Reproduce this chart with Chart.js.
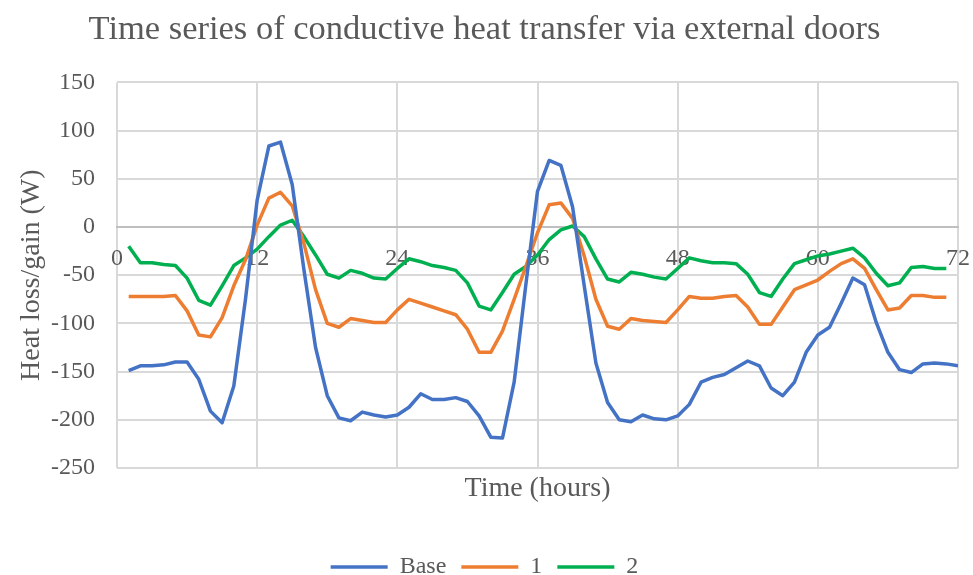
<!DOCTYPE html>
<html lang="en">

<head>
    <meta charset="UTF-8">
    <script src="https://cdn.jsdelivr.net/npm/chart.js"></script>
    <title>Conductive heat transfer</title>
    <style>
        body { margin: 0; background: #fff; }
        .grafico { width: 973px; height: 575px; }
    </style>
</head>

<body>
    <div class="grafico">
        <canvas id="myChart"></canvas>
    </div>
</body>

</html>
<script>
    // hours 1..72
    const hours = [1, 2, 3, 4, 5, 6, 7, 8, 9, 10, 11, 12, 13, 14, 15, 16, 17, 18, 19, 20, 21, 22, 23, 24,
        25, 26, 27, 28, 29, 30, 31, 32, 33, 34, 35, 36, 37, 38, 39, 40, 41, 42, 43, 44, 45, 46, 47, 48,
        49, 50, 51, 52, 53, 54, 55, 56, 57, 58, 59, 60, 61, 62, 63, 64, 65, 66, 67, 68, 69, 70, 71, 72];

    const base = [-149, -144, -144, -143, -140, -140, -158, -191, -203, -165, -75, 28, 84, 88, 44, -44, -125, -175, -198, -201, -192, -195, -197, -195,
        -187, -173, -179, -179, -177, -181, -196, -218, -219, -161, -60, 37, 69, 64, 21, -61, -141, -182, -200, -202, -195, -199, -200, -196,
        -184, -161, -156, -153, -146, -139, -144, -167, -175, -161, -130, -112, -104, -79, -53, -60, -99, -130, -148, -151, -142, -141, -142, -144];

    const serie1 = [-72, -72, -72, -72, -71, -87, -112, -114, -94, -61, -34, 2, 30, 36, 22, -17, -65, -100, -104, -95, -97, -99, -99, -86,
        -75, -79, -83, -87, -91, -106, -130, -130, -108, -75, -41, -6, 23, 25, 9, -30, -75, -103, -106, -95, -97, -98, -99, -86,
        -72, -74, -74, -72, -71, -83, -101, -101, -83, -65, -60, -55, -46, -38, -33, -43, -65, -86, -84, -71, -71, -73, -73];

    const serie2 = [-20, -37, -37, -39, -40, -53, -76, -81, -61, -40, -32, -23, -10, 2, 7, -10, -29, -49, -53, -45, -48, -53, -54, -43,
        -33, -36, -40, -42, -45, -58, -82, -86, -68, -49, -41, -29, -13, -3, 1, -10, -33, -54, -57, -47, -49, -52, -54, -43,
        -32, -35, -37, -37, -38, -49, -68, -72, -54, -38, -34, -30, -28, -25, -22, -32, -48, -61, -58, -42, -41, -43, -43];

    const xTicks = [0, 12, 24, 36, 48, 60, 72];
    const yTicks = [-250, -200, -150, -100, -50, 0, 50, 100, 150];

    const cinza = '#595959';
    const fonte = 'Liberation Serif';

    function linha(label, data, cor) {
        return {
            label: label,
            data: data,
            borderColor: cor,
            backgroundColor: cor,
            borderWidth: 3.5,
            borderJoinStyle: 'round',
            pointRadius: 0,
            tension: 0
        };
    }

    const ctx = document.getElementById('myChart');

    const myChart = new Chart(ctx, {
        type: 'line',
        data: {
            labels: hours,
            datasets: [
                linha('Base', base, '#4472C4'),
                linha('1', serie1, '#ED7D31'),
                linha('2', serie2, '#00B050')
            ]
        },
        options: {
            responsive: true,
            maintainAspectRatio: false,
            animation: false,
            layout: { padding: { left: 11, right: 15, top: 0, bottom: -14 } },
            plugins: {
                title: {
                    display: true,
                    text: 'Time series of conductive heat transfer via external doors',
                    color: cinza,
                    font: { family: fonte, size: 34.5, weight: 'normal' },
                    padding: { top: 9, bottom: 32 }
                },
                legend: {
                    position: 'bottom',
                    labels: {
                        usePointStyle: true,
                        pointStyle: 'line',
                        pointStyleWidth: 57,
                        color: cinza,
                        padding: 15,
                        font: { family: fonte, size: 24 }
                    }
                },
                tooltip: { enabled: false }
            },
            scales: {
                x: {
                    type: 'linear',
                    position: 'bottom',
                    min: 0,
                    max: 72,
                    afterBuildTicks: axis => { axis.ticks = xTicks.map(v => ({ value: v })); },
                    ticks: { display: false },
                    grid: { color: '#D9D9D9', lineWidth: 2, drawTicks: false },
                    border: { display: false },
                    title: {
                        display: true,
                        text: 'Time (hours)',
                        color: cinza,
                        font: { family: fonte, size: 28 },
                        padding: { top: 4, bottom: 34.4 }
                    }
                },
                // eixo só para os rótulos, cruzando em y = 0
                xZero: {
                    type: 'linear',
                    axis: 'x',
                    position: { y: 0 },
                    min: 0,
                    max: 72,
                    afterBuildTicks: axis => { axis.ticks = xTicks.map(v => ({ value: v })); },
                    ticks: {
                        color: cinza,
                        padding: 0,
                        maxRotation: 0,
                        font: { family: fonte, size: 24 }
                    },
                    grid: { display: false, drawTicks: true, tickLength: 17 },
                    border: { display: true, color: '#BFBFBF', width: 2 }
                },
                y: {
                    min: -250,
                    max: 150,
                    afterBuildTicks: axis => { axis.ticks = yTicks.map(v => ({ value: v })); },
                    afterFit: axis => { axis.width = 106; },
                    ticks: {
                        color: cinza,
                        padding: 22,
                        font: { family: fonte, size: 24 }
                    },
                    grid: { color: '#D9D9D9', lineWidth: 2, drawTicks: false },
                    border: { display: false },
                    title: {
                        display: true,
                        text: 'Heat loss/gain (W)',
                        color: cinza,
                        font: { family: fonte, size: 28 },
                        padding: { top: 4, bottom: 8 }
                    }
                }
            }
        }
    });
</script>
